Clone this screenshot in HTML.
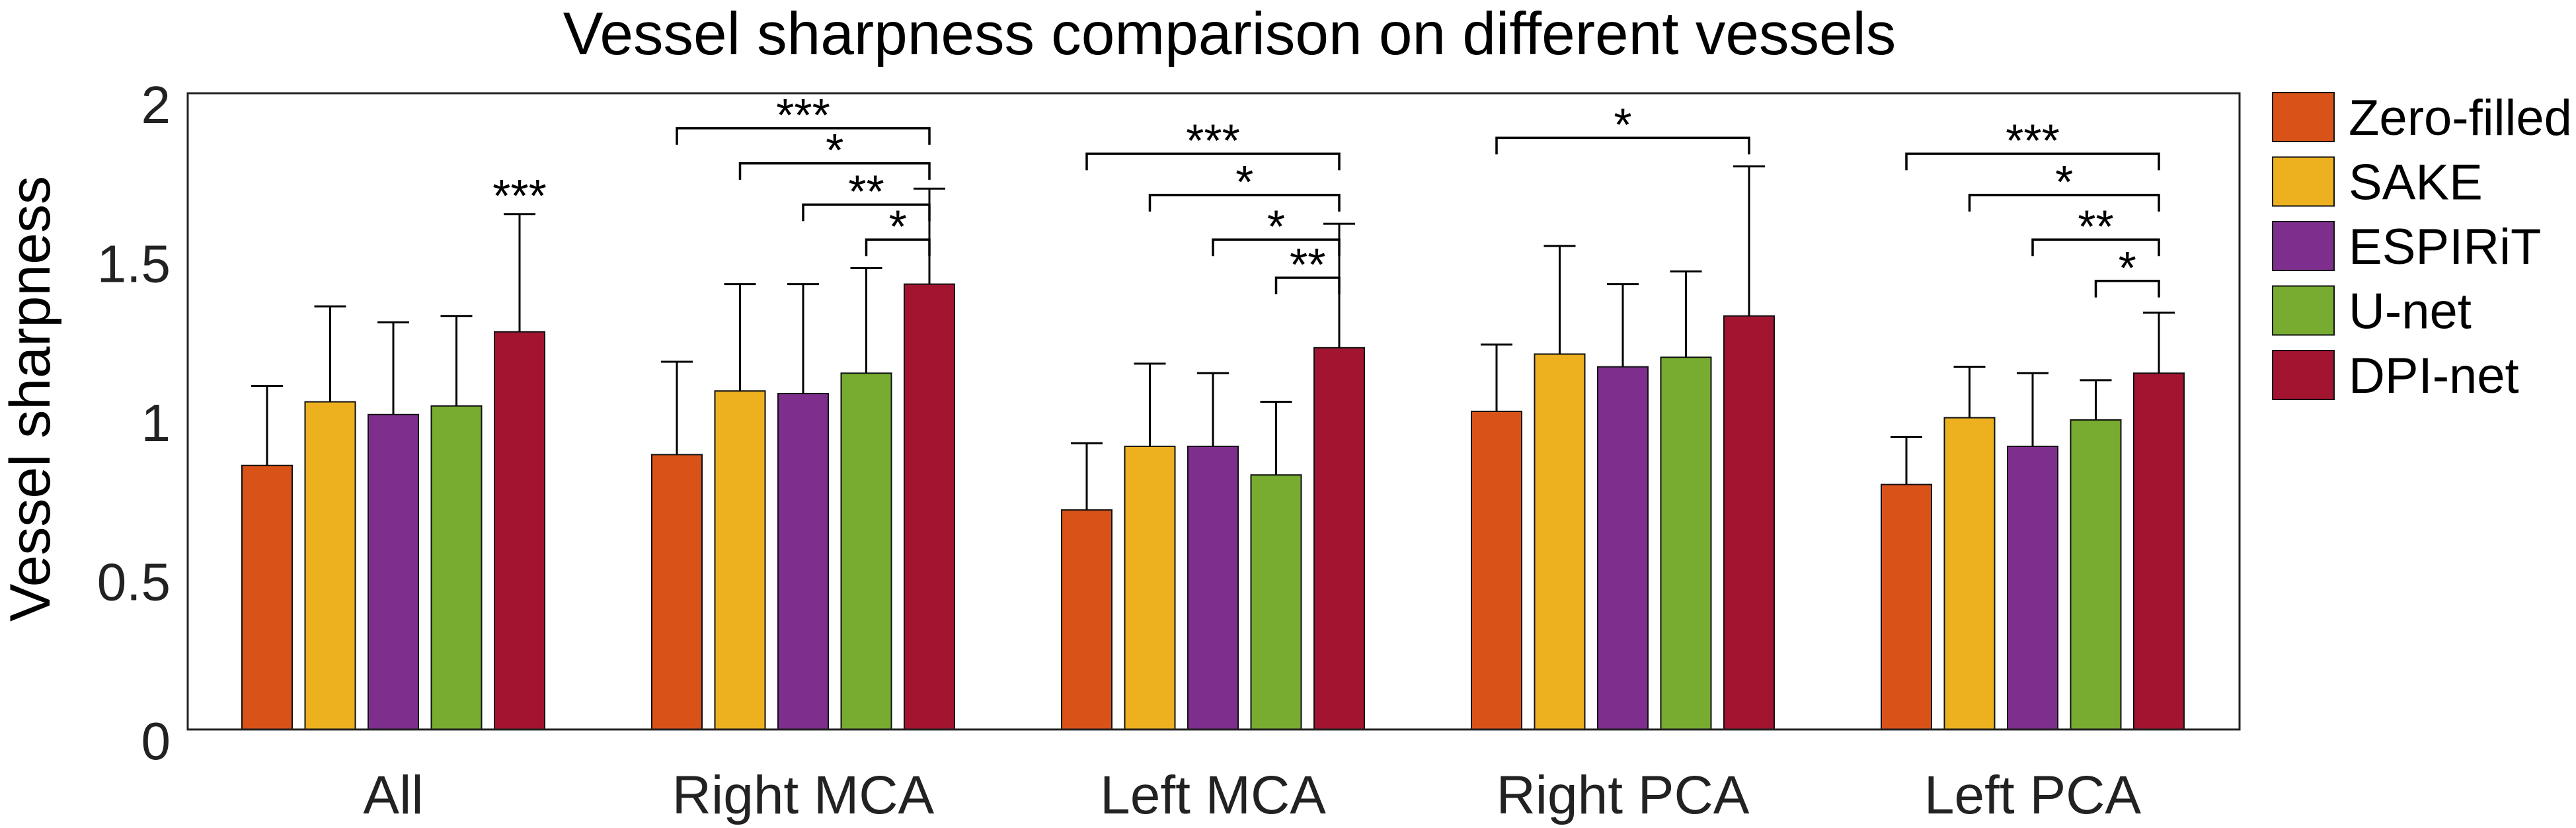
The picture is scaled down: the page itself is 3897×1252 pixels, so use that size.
<!DOCTYPE html>
<html><head><meta charset="utf-8"><style>
html,body{margin:0;padding:0;background:#fff}
svg{display:block;font-family:"Liberation Sans",Arial,sans-serif}
</style></head><body>
<svg id="chart" width="3897" height="1252" viewBox="0 0 3897 1252" xmlns="http://www.w3.org/2000/svg">
<rect x="0" y="0" width="3897" height="1252" fill="#fff"/>
<text x="1860" y="82" font-size="91" text-anchor="middle" fill="#000">Vessel sharpness comparison on different vessels</text>
<text transform="translate(75,603) rotate(-90)" font-size="86" text-anchor="middle" fill="#000">Vessel sharpness</text>
<g id="plot"></g>
<rect x="284" y="141" width="3104" height="962" fill="none" stroke="#222" stroke-width="3"/>
<g id="legend"></g>
</svg>
<script>
const categories = ["All","Right MCA","Left MCA","Right PCA","Left PCA"];
const methods = ["Zero-filled","SAKE","ESPIRiT","U-net","DPI-net"];
const colors = ["#d95319","#edb120","#7e2f8e","#77ac30","#a2142f"];
const zeroFilled = [0.83,0.864,0.69,1.00,0.77];
const sake       = [1.03,1.064,0.89,1.18,0.98];
const espirit    = [0.99,1.056,0.89,1.14,0.89];
const unet       = [1.017,1.12,0.80,1.17,0.973];
const dpinet     = [1.25,1.40,1.20,1.30,1.12];
const errTops = [
  [1.08,1.33,1.28,1.30,1.62],
  [1.156,1.40,1.40,1.45,1.70],
  [0.90,1.15,1.12,1.03,1.59],
  [1.21,1.52,1.40,1.44,1.77],
  [0.92,1.14,1.12,1.098,1.31]
];
const yTicks = [0,0.5,1,1.5,2];
const yTickLabels = ["0","0.5","1","1.5","2"];
// brackets: [group, fromMethod, label, yValue]
const brackets = [
  [1,0,"***",1.89],[1,1,"*",1.78],[1,2,"**",1.65],[1,3,"*",1.54],
  [2,0,"***",1.81],[2,1,"*",1.68],[2,2,"*",1.54],[2,3,"**",1.42],
  [3,0,"*",1.86],
  [4,0,"***",1.81],[4,1,"*",1.68],[4,2,"**",1.54],[4,3,"*",1.41]
];
const singleMarks = [[0,4,"***"]];

const NS="http://www.w3.org/2000/svg";
const series=[zeroFilled,sake,espirit,unet,dpinet];
const Y0=1103, Y1=141, VMAX=2;
const y=v=>Y0-(v/VMAX)*(Y0-Y1);
const groupStart=366, groupPitch=620, barPitch=95.5, barW=76;
const bx=(g,m)=>groupStart+g*groupPitch+m*barPitch;
const cx=(g,m)=>bx(g,m)+barW/2;
function el(tag,attrs,parent){const e=document.createElementNS(NS,tag);for(const k in attrs)e.setAttribute(k,attrs[k]);parent.appendChild(e);return e;}
const plot=document.getElementById('plot');
const svg=document.getElementById('chart');

yTicks.forEach((t,i)=>{
  const tx=el('text',{x:258,y:y(t)+45,'font-size':80,'text-anchor':'end',fill:'#222'},svg);
  
  
  tx.textContent=yTickLabels[i];
});
categories.forEach((c,g)=>{
  const tx=el('text',{x:cx(g,2),y:1230,'font-size':82,'text-anchor':'middle',fill:'#222'},svg);
  
  
  tx.textContent=c;
});
categories.forEach((c,g)=>{
  series.forEach((s,m)=>{
    const v=s[g];
    const r=el('rect',{x:bx(g,m),y:y(v),width:barW,height:Y0-y(v),fill:colors[m],stroke:'#111','stroke-width':2},plot);
    
    
    const e=errTops[g][m];
    const p=el('path',{d:`M${cx(g,m)} ${y(v)}V${y(e)}M${cx(g,m)-24} ${y(e)}H${cx(g,m)+24}`,stroke:'#000','stroke-width':3,fill:'none'},plot);
    
    
  });
});
brackets.forEach(b=>{
  const [g,m,lab,v]=b;
  const x1=cx(g,m), x2=cx(g,4), yy=y(v);
  const p=el('path',{d:`M${x1} ${yy+25}V${yy}H${x2}V${yy+25}`,stroke:'#000','stroke-width':3.5,fill:'none'},plot);
  
  
  const t=el('text',{x:(x1+x2)/2,y:yy+4,'font-size':70,'text-anchor':'middle',fill:'#000'},plot);
  
  
  t.textContent=lab;
});
singleMarks.forEach(s=>{
  const [g,m,lab]=s;
  const t=el('text',{x:cx(g,m),y:y(errTops[g][m])-4,'font-size':70,'text-anchor':'middle',fill:'#000'},plot);
  
  
  t.textContent=lab;
});
const lg=document.getElementById('legend');
methods.forEach((n,i)=>{
  const yy=140+i*97.5;
  const r=el('rect',{x:3438,y:yy,width:93,height:74,fill:colors[i],stroke:'#111','stroke-width':2},lg);
  
  
  const t=el('text',{x:3553,y:yy+64,'font-size':76,fill:'#000'},lg);
  
  
  t.textContent=n;
});
</script>
</body></html>
